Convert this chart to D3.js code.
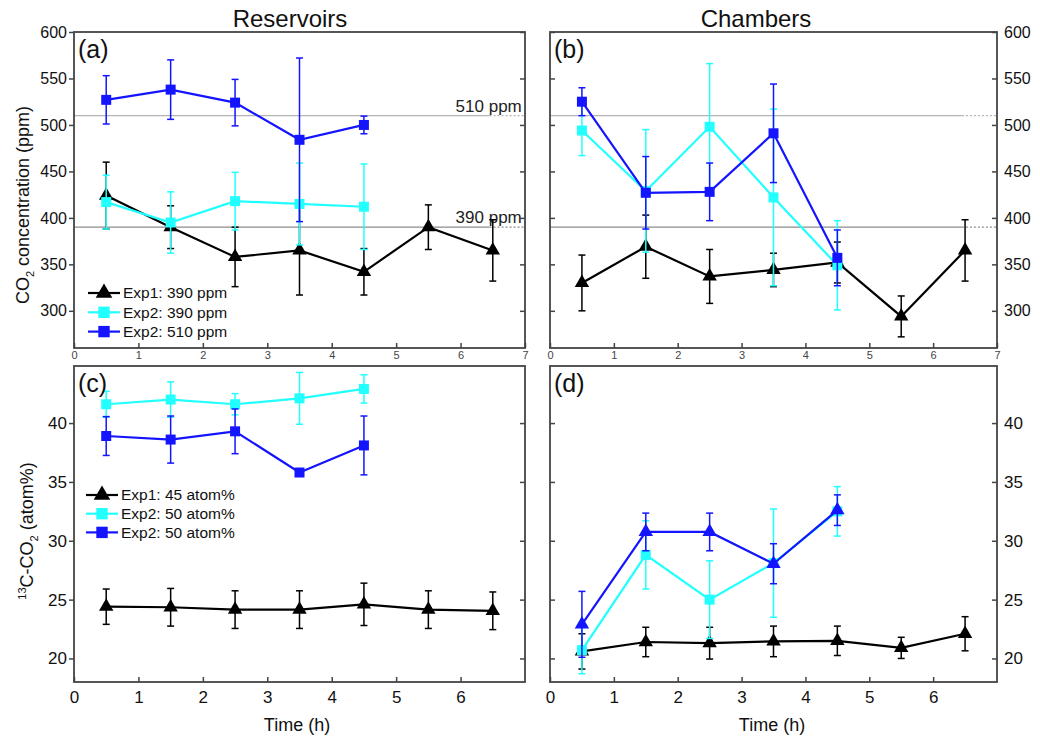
<!DOCTYPE html>
<html>
<head>
<meta charset="utf-8">
<script src="https://cdn.jsdelivr.net/npm/d3@7"></script>
<style>
  body { margin: 0; background: #fff; }
  svg { display: block; font-family: "Liberation Sans", Arial, sans-serif; }
</style>
</head>
<body>
<svg id="chart" width="1040" height="738"></svg>
<script>
// ---- data -------------------------------------------------------------
const timesExp1 = [0.5, 1.5, 2.5, 3.5, 4.5, 5.5, 6.5];
const timesExp2 = [0.5, 1.5, 2.5, 3.5, 4.5];

const xTicks = [0, 1, 2, 3, 4, 5, 6, 7];
const co2Ticks = [300, 350, 400, 450, 500, 550, 600];
const atomTicks = [20, 25, 30, 35, 40];

const co2Targets = [510, 390];
const co2TargetLabels = ["510 ppm", "390 ppm"];

const panelTitles = ["Reservoirs", "Chambers"];
const co2Legend = ["Exp1: 390 ppm", "Exp2: 390 ppm", "Exp2: 510 ppm"];
const atomLegend = ["Exp1: 45 atom%", "Exp2: 50 atom%", "Exp2: 50 atom%"];

// CO2 concentration (ppm) in the reservoirs
const co2ResExp1 = [424, 390, 358, 365, 342, 390, 365];
const co2ResExp1Err = [36, 23, 32, 48, 25, 24, 33];
const co2ResExp2Low = [417, 395, 418, 415, 412];
const co2ResExp2LowErr = [29, 33, 31, 44, 46];
const co2ResExp2High = [527, 538, 524, 484, 500];
const co2ResExp2HighErr = [26, 32, 25, 88, 9.5];

// CO2 concentration (ppm) in the chambers
const co2ChExp1 = [330, 369, 337, 344, 352, 294, 365];
const co2ChExp1Err = [30, 34, 29, 18, 22, 22, 33];
const co2ChExp2Low = [494, 429, 498, 422, 349];
const co2ChExp2LowErr = [27, 66, 68, 95, 48];
const co2ChExp2High = [525, 427, 428, 491, 357];
const co2ChExp2HighErr = [15, 39, 31, 53, 30];

// 13C-CO2 (atom%) in the reservoirs
const atomResExp1 = [24.4, 24.35, 24.15, 24.15, 24.6, 24.15, 24.05];
const atomResExp1Err = [1.5, 1.6, 1.6, 1.6, 1.8, 1.6, 1.6];
const atomResExp2Low = [41.6, 42.0, 41.6, 42.1, 42.9];
const atomResExp2LowErr = [1.1, 1.5, 0.9, 2.2, 1.2];
const atomResExp2High = [38.9, 38.6, 39.3, 35.8, 38.1];
const atomResExp2HighErr = [1.65, 2.0, 1.9, 0.2, 2.5];

// 13C-CO2 (atom%) in the chambers
const atomChExp1 = [20.6, 21.4, 21.3, 21.45, 21.5, 20.9, 22.1];
const atomChExp1Err = [1.5, 1.25, 1.35, 1.3, 1.25, 0.9, 1.45];
const atomChExp2Low = [20.7, 28.8, 25.0, 28.1, 32.5];
const atomChExp2LowErr = [2.0, 2.9, 3.3, 4.6, 2.1];
const atomChExp2High = [22.9, 30.75, 30.75, 28.05, 32.6];
const atomChExp2HighErr = [2.8, 1.6, 1.6, 1.7, 1.3];

// ---- styling ----------------------------------------------------------
const BLACK = "#000000", CYAN = "#22ffff", BLUE = "#1414ff";
const FRAME = "#444444";

const svg = d3.select("#chart");

function series(t, v, err, color, shape) {
  return { pts: t.map((d, i) => ({ t: d, v: v[i], e: err[i] })), color, shape };
}

const panels = [
  { label: "(a)", left: 74, right: 525, top: 32, bottom: 348, domain: [260, 600], ticks: co2Ticks,
    side: "left", smallX: true, targets: true, legend: co2Legend,
    legendPos: { x: 88, y: 293, step: 19.3 },
    series: [
      series(timesExp1, co2ResExp1, co2ResExp1Err, BLACK, "tri"),
      series(timesExp2, co2ResExp2Low, co2ResExp2LowErr, CYAN, "sq"),
      series(timesExp2, co2ResExp2High, co2ResExp2HighErr, BLUE, "sq")
    ] },
  { label: "(b)", left: 550, right: 997, top: 32, bottom: 348, domain: [260, 600], ticks: co2Ticks,
    side: "right", smallX: true, targets: true,
    series: [
      series(timesExp1, co2ChExp1, co2ChExp1Err, BLACK, "tri"),
      series(timesExp2, co2ChExp2Low, co2ChExp2LowErr, CYAN, "sq"),
      series(timesExp2, co2ChExp2High, co2ChExp2HighErr, BLUE, "sq")
    ] },
  { label: "(c)", left: 74, right: 525, top: 366, bottom: 682, domain: [18, 44.85], ticks: atomTicks,
    side: "left", smallX: false, targets: false, legend: atomLegend,
    legendPos: { x: 86, y: 495, step: 18.7 },
    series: [
      series(timesExp1, atomResExp1, atomResExp1Err, BLACK, "tri"),
      series(timesExp2, atomResExp2Low, atomResExp2LowErr, CYAN, "sq"),
      series(timesExp2, atomResExp2High, atomResExp2HighErr, BLUE, "sq")
    ] },
  { label: "(d)", left: 550, right: 997, top: 366, bottom: 682, domain: [18, 44.85], ticks: atomTicks,
    side: "right", smallX: false, targets: false,
    series: [
      series(timesExp1, atomChExp1, atomChExp1Err, BLACK, "tri"),
      series(timesExp2, atomChExp2Low, atomChExp2LowErr, CYAN, "sq"),
      series(timesExp2, atomChExp2High, atomChExp2HighErr, BLUE, "tri")
    ] }
];

const symbolPath = (shape, big) => d3.symbol()
  .type(shape === "tri" ? d3.symbolTriangle : d3.symbolSquare)
  .size(shape === "tri" ? (big ? 120 : 90) : (big ? 130 : 100))();

panels.forEach(p => {
  const x = d3.scaleLinear().domain([0, 7]).range([p.left, p.right]);
  const y = d3.scaleLinear().domain(p.domain).range([p.bottom, p.top]);
  const g = svg.append("g");

  // horizontal target concentrations
  if (p.targets) {
    co2Targets.forEach((c, i) => {
      const col = i === 0 ? "#b4b4b4" : "#8c8c8c";
      g.append("line").attr("x1", x(0)).attr("x2", x(6.45))
        .attr("y1", y(c)).attr("y2", y(c))
        .attr("stroke", col).attr("stroke-width", 1.3);
      g.append("line").attr("x1", x(6.45)).attr("x2", x(7))
        .attr("y1", y(c)).attr("y2", y(c))
        .attr("stroke", col).attr("stroke-width", 1.3).attr("stroke-dasharray", "2,2");
      if (p.side === "left") {
        g.append("text").attr("x", x(6.95)).attr("y", y(c) - 4)
          .attr("text-anchor", "end").attr("font-size", 17).attr("fill", "#222")
          .text(co2TargetLabels[i]);
      }
    });
  }

  // axes
  const bottomAxis = d3.axisBottom(x).tickValues(p.smallX ? xTicks : xTicks.slice(0, 7))
    .tickFormat(d3.format("d")).tickSizeInner(-5).tickSizeOuter(0)
    .tickPadding(p.smallX ? 3 : 9);
  const ax = g.append("g").attr("transform", `translate(0,${p.bottom})`).call(bottomAxis);
  ax.selectAll("text").attr("font-size", p.smallX ? 11 : 17)
    .attr("fill", p.smallX ? "#444" : "#111").attr("font-family", "Liberation Sans, Arial, sans-serif");

  const yLab = p.side === "left"
    ? d3.axisLeft(y).tickValues(p.ticks).tickSizeInner(5).tickSizeOuter(0).tickPadding(2)
    : d3.axisRight(y).tickValues(p.ticks).tickSizeInner(-5).tickSizeOuter(0).tickPadding(7);
  const ay = g.append("g")
    .attr("transform", `translate(${p.side === "left" ? p.left : p.right},0)`).call(yLab);
  ay.selectAll("text").attr("font-size", p.smallX ? 16 : 17).attr("fill", "#111")
    .attr("font-family", "Liberation Sans, Arial, sans-serif");

  // unlabeled tick marks on the opposite vertical side, pointing inward
  const yPlain = p.side === "left"
    ? d3.axisRight(y).tickValues(p.ticks).tickSizeInner(-5).tickSizeOuter(0).tickFormat("")
    : d3.axisLeft(y).tickValues(p.ticks).tickSizeInner(-5).tickSizeOuter(0).tickFormat("");
  g.append("g").attr("transform", `translate(${p.side === "left" ? p.right : p.left},0)`).call(yPlain);

  g.selectAll(".domain").remove();
  g.selectAll(".tick line").attr("stroke", FRAME).attr("stroke-width", 1.5);

  // frame
  g.append("rect").attr("x", p.left).attr("y", p.top)
    .attr("width", p.right - p.left).attr("height", p.bottom - p.top)
    .attr("fill", "none").attr("stroke", FRAME).attr("stroke-width", 1.8);

  // series: error bars, connecting line, markers
  const line = d3.line().x(d => x(d.t)).y(d => y(d.v));
  p.series.forEach(s => {
    const sg = g.append("g");
    s.pts.forEach(d => {
      const xx = x(d.t), y0 = y(d.v - d.e), y1 = y(d.v + d.e);
      sg.append("line").attr("x1", xx).attr("x2", xx).attr("y1", y0).attr("y2", y1)
        .attr("stroke", s.color).attr("stroke-width", 1.5);
      [y0, y1].forEach(yy => sg.append("line")
        .attr("x1", xx - 3.5).attr("x2", xx + 3.5).attr("y1", yy).attr("y2", yy)
        .attr("stroke", s.color).attr("stroke-width", 1.5));
    });
    sg.append("path").datum(s.pts).attr("d", line)
      .attr("fill", "none").attr("stroke", s.color).attr("stroke-width", 2.2);
    sg.selectAll("path.mk").data(s.pts).join("path").attr("class", "mk")
      .attr("transform", d => `translate(${x(d.t)},${y(d.v)})`)
      .attr("d", symbolPath(s.shape, false)).attr("fill", s.color);
  });

  // panel letter
  g.append("text").attr("x", p.left + 4).attr("y", p.top + 26)
    .attr("font-size", 25).attr("fill", "#111").text(p.label);

  // legend
  if (p.legend) {
    p.legend.forEach((txt, i) => {
      const s = p.series[i];
      const ly = p.legendPos.y + i * p.legendPos.step;
      const lx = p.legendPos.x;
      g.append("line").attr("x1", lx).attr("x2", lx + 32).attr("y1", ly).attr("y2", ly)
        .attr("stroke", s.color).attr("stroke-width", 2.2);
      g.append("path").attr("transform", `translate(${lx + 16},${ly})`)
        .attr("d", symbolPath(s.shape, true))
        .attr("fill", s.color);
      g.append("text").attr("x", lx + 35).attr("y", ly).attr("dy", "0.35em")
        .attr("font-size", 15.5).attr("fill", "#111").text(txt);
    });
  }
});

// column titles
svg.append("text").attr("x", 290).attr("y", 27).attr("text-anchor", "middle")
  .attr("font-size", 24).attr("fill", "#111").text(panelTitles[0]);
svg.append("text").attr("x", 756).attr("y", 27).attr("text-anchor", "middle")
  .attr("font-size", 24).attr("fill", "#111").text(panelTitles[1]);

// x axis titles
[[297, "Time (h)"], [772, "Time (h)"]].forEach(([cx, t]) =>
  svg.append("text").attr("x", cx).attr("y", 731).attr("text-anchor", "middle")
    .attr("font-size", 18).attr("fill", "#111").text(t));

// y axis titles
const t1 = svg.append("text").attr("transform", "translate(29,205) rotate(-90)")
  .attr("text-anchor", "middle").attr("font-size", 18).attr("fill", "#111");
t1.append("tspan").text("CO");
t1.append("tspan").attr("font-size", 11).attr("dy", 5).text("2");
t1.append("tspan").attr("dy", -5).text(" concentration (ppm)");

const t2 = svg.append("text").attr("transform", "translate(33,531) rotate(-90)")
  .attr("text-anchor", "middle").attr("font-size", 18).attr("fill", "#111");
t2.append("tspan").attr("font-size", 11).attr("dy", -7).text("13");
t2.append("tspan").attr("dy", 7).text("C-CO");
t2.append("tspan").attr("font-size", 11).attr("dy", 5).text("2");
t2.append("tspan").attr("dy", -5).text(" (atom%)");
</script>
</body>
</html>
